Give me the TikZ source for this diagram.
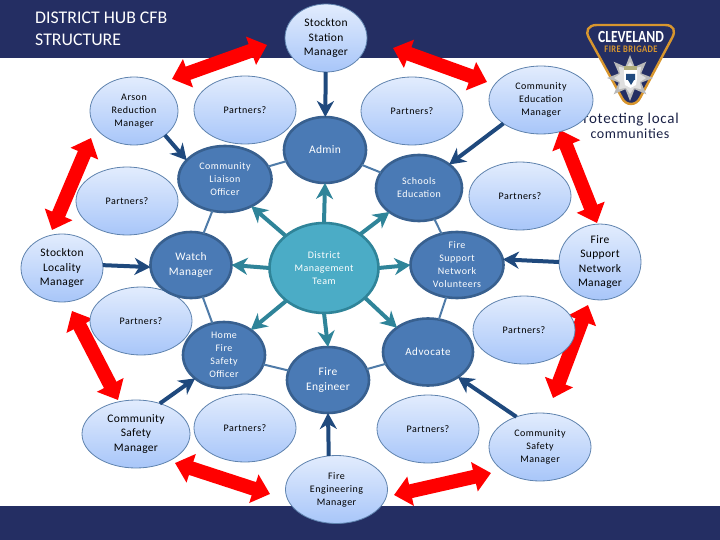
\documentclass[tikz,border=0pt]{standalone}
\usepackage{fontspec}
\setmainfont{Carlito}
\usetikzlibrary{arrows.meta,shapes.geometric}
\definecolor{navy}{HTML}{242E63}
\definecolor{ringfill}{HTML}{4A7AB5}
\definecolor{ringline}{HTML}{38608F}
\definecolor{lightline}{HTML}{5F83AE}
\definecolor{lighttop}{HTML}{E2ECFD}
\definecolor{lightbot}{HTML}{A8C6F9}
\definecolor{tealfill}{HTML}{4BACC6}
\definecolor{tealline}{HTML}{2F8499}
\definecolor{bluearrow}{HTML}{1F497D}
\definecolor{linkline}{HTML}{4F7BA8}
\definecolor{gold}{HTML}{D8962E}
\newcommand{\tsmall}{\fontsize{10}{13}\selectfont\addfontfeatures{LetterSpace=5}}
\newcommand{\tbig}{\fontsize{11.5}{14.6}\selectfont\addfontfeatures{LetterSpace=3}}
\pgfdeclarelayer{back}
\pgfdeclarelayer{under}
\pgfsetlayers{back,under,main}
\tikzset{
  base/.style={ellipse,inner sep=0pt,outer sep=0pt,align=center},
  light/.style={base,draw=lightline,line width=.8pt,top color=lighttop,bottom color=lightbot,text=black},
  ring/.style={base,draw=ringline,line width=2.6pt,fill=ringfill,text=white},
  hub/.style={base,draw=tealline,line width=2.6pt,fill=tealfill,text=white},
  sm/.style={font=\tsmall},
  bg/.style={font=\tbig},
  redarrow/.style={draw=red,line width=14pt,{Triangle[length=17pt,width=29pt]}-{Triangle[length=17pt,width=29pt]}},
  bluelink/.style={draw=bluearrow,line width=4pt,-{Stealth[length=16pt,width=17pt,inset=5pt]}},
  teallink/.style={draw=tealline,line width=4pt,-{Stealth[length=16pt,width=17pt,inset=5pt]}},
  ringlink/.style={draw=linkline,line width=2pt},
}
\begin{document}
\begin{tikzpicture}[x=1pt,y=-1pt]
\useasboundingbox (0,0) rectangle (720,540);
\begin{pgfonlayer}{back}
\fill[navy] (0,0) rectangle (720,58) (0,506) rectangle (720,540);
\end{pgfonlayer}
% title
\node[anchor=north west,text=white,align=left,inner sep=0pt,font=\fontsize{17.8}{22.5}\selectfont] (title) at (35,11.5) {DISTRICT HUB CFB\\STRUCTURE};
% logo
\draw[gold,line width=2.4pt,fill=navy] (597,25)--(665,25) .. controls (674,25) and (676,31) .. (672,38) -- (640,98) .. controls (636,106) and (626,106) .. (622,98) -- (589,38) .. controls (585,31) and (588,25) .. (597,25) -- cycle;
\node[inner sep=0pt,text=white,font=\fontsize{17}{18}\bfseries\selectfont] (logoa) at (631,37) {\scalebox{0.8}[1]{CLEVELAND}};
\node[inner sep=0pt,text=gold,font=\fontsize{10}{11}\bfseries\selectfont\addfontfeatures{LetterSpace=5}] (logob) at (631,49.5) {\scalebox{0.85}[1]{FIRE BRIGADE}};
\node[star,star points=8,star point ratio=1.9,minimum size=46pt,inner sep=0pt,fill=gray!55] (logostar) at (630,78) {};
\node[star,star points=8,star point ratio=1.5,minimum size=32pt,inner sep=0pt,fill=gray!25] (logostarb) at (630,78) {};
\fill[white] (624,69) rectangle (637,79) (624,79) -- (637,79) -- (636,85) -- (630.5,88) -- (625,85) -- cycle;
\fill[bluearrow] (626,74) rectangle (635,80) (628,80) -- (634,80) -- (631,85) -- cycle;
\fill[gray!70!yellow] (624,66) rectangle (637,70);
\node[anchor=east,inner sep=0pt,text=navy!70!black,font=\fontsize{15}{15}\selectfont\addfontfeatures{LetterSpace=5}] (logoc) at (679,120) {Protecting local};
\node[inner sep=0pt,text=navy!70!black,font=\fontsize{14}{14}\selectfont\addfontfeatures{LetterSpace=4}] (logod) at (630,134) {communities};
% nodes
\node[light,bg,minimum width=82pt,minimum height=68pt] (station) at (326,38) {Stockton\\Station\\Manager};
\node[light,sm,minimum width=88pt,minimum height=68pt] (arson) at (134,111) {Arson\\Reduction\\Manager};
\node[light,sm,minimum width=102pt,minimum height=68pt] (pa) at (245,110) {Partners?};
\node[light,sm,minimum width=102pt,minimum height=68pt] (pb) at (412,111) {Partners?};
\node[light,sm,minimum width=104pt,minimum height=68pt] (comed) at (541,100) {Community\\Education\\Manager};
\node[light,sm,minimum width=102pt,minimum height=68pt] (pc) at (127,201) {Partners?};
\node[light,sm,minimum width=102pt,minimum height=68pt] (pd) at (520,196) {Partners?};
\node[light,bg,minimum width=82pt,minimum height=68pt] (locality) at (62,268) {Stockton\\Locality\\Manager};
\node[light,bg,minimum width=82pt,minimum height=68pt] (fsnm) at (600,262) {Fire\\Support\\Network\\Manager};
\node[light,sm,minimum width=102pt,minimum height=68pt] (pe) at (141,321) {Partners?};
\node[light,sm,minimum width=102pt,minimum height=68pt] (pf) at (524,330) {Partners?};
\node[light,bg,minimum width=108pt,minimum height=68pt] (csleft) at (136,434) {Community\\Safety\\Manager};
\node[light,sm,minimum width=102pt,minimum height=68pt] (pg) at (245,428) {Partners?};
\node[light,sm,minimum width=102pt,minimum height=68pt] (ph) at (428,429) {Partners?};
\node[light,sm,minimum width=102pt,minimum height=68pt] (csright) at (540,447) {Community\\Safety\\Manager};
\node[light,sm,minimum width=102pt,minimum height=68pt] (fem) at (336.5,489.5) {Fire\\Engineering\\Manager};
\node[ring,sm,minimum width=93pt,minimum height=66pt] (liaison) at (225,179) {Community\\Liaison\\Officer};
\node[ring,bg,minimum width=82pt,minimum height=66pt] (admin) at (325,150) {Admin};
\node[ring,sm,minimum width=86pt,minimum height=66pt] (schools) at (419,188) {Schools\\Education};
\node[ring,bg,minimum width=81pt,minimum height=66pt] (watch) at (191,265) {Watch\\Manager};
\node[ring,sm,minimum width=93pt,minimum height=66pt] (fsnv) at (457,265) {Fire\\Support\\Network\\Volunteers};
\node[ring,sm,minimum width=82pt,minimum height=66pt] (home) at (224,355) {Home\\Fire\\Safety\\Officer};
\node[ring,bg,minimum width=82pt,minimum height=66pt] (fe) at (328,380) {Fire\\Engineer};
\node[ring,sm,font=\fontsize{11}{13}\selectfont\addfontfeatures{LetterSpace=5},minimum width=90pt,minimum height=67pt] (adv) at (428,352) {Advocate};
\node[hub,sm,minimum width=109pt,minimum height=90pt] (dmt) at (324,268) {District\\Management\\Team};
% red arrows, under the ellipses
\coordinate (r1a) at (172,79);  \coordinate (r1b) at (267,45);
\coordinate (r2a) at (91,138);  \coordinate (r2b) at (52,230);
\coordinate (r3a) at (72,311);  \coordinate (r3b) at (118,400);
\coordinate (r4a) at (175,463); \coordinate (r4b) at (270,494);
\coordinate (r5a) at (394,495); \coordinate (r5b) at (491,473);
\coordinate (r6a) at (588,305); \coordinate (r6b) at (553,398);
\coordinate (r7a) at (560,130); \coordinate (r7b) at (597,223);
\coordinate (r8a) at (393,48);  \coordinate (r8b) at (487,82);
\begin{pgfonlayer}{under}
\foreach \k in {1,...,8} {\draw[redarrow] (r\k a) -- (r\k b);}
\end{pgfonlayer}
% ring links
\draw[ringlink] (liaison) -- (admin);
\draw[ringlink] (admin) -- (schools);
\draw[ringlink] (schools) -- (fsnv);
\draw[ringlink] (fsnv) -- (adv);
\draw[ringlink] (adv) -- (fe);
\draw[ringlink] (fe) -- (home);
\draw[ringlink] (home) -- (watch);
\draw[ringlink] (watch) -- (liaison);
% outer arrows
\draw[bluelink] (station) -- (admin);
\draw[bluelink] (arson.-38) -- (liaison.154);
\draw[bluelink] (comed.212) -- (schools.38);
\draw[bluelink] (locality.4) -- (watch.183);
\draw[bluelink] (fsnm.west) -- (fsnv.7);
\draw[bluelink] (csleft.52) -- (home.219);
\draw[bluelink] (csright.128) -- (adv.-40);
\draw[bluelink] (fem.103) -- (fe.south);
% hub arrows
\draw[teallink] (dmt.140) -- (liaison.-46);
\draw[teallink] (dmt.north) -- (admin.south);
\draw[teallink] (dmt.43) -- (schools.219);
\draw[teallink] (dmt.west) -- (watch.east);
\draw[teallink] (dmt.east) -- (fsnv.west);
\draw[teallink] (dmt.221) -- (home.43);
\draw[teallink] (dmt.south) -- (fe.north);
\draw[teallink] (dmt.-36) -- (adv.142);
\end{tikzpicture}
\end{document}
